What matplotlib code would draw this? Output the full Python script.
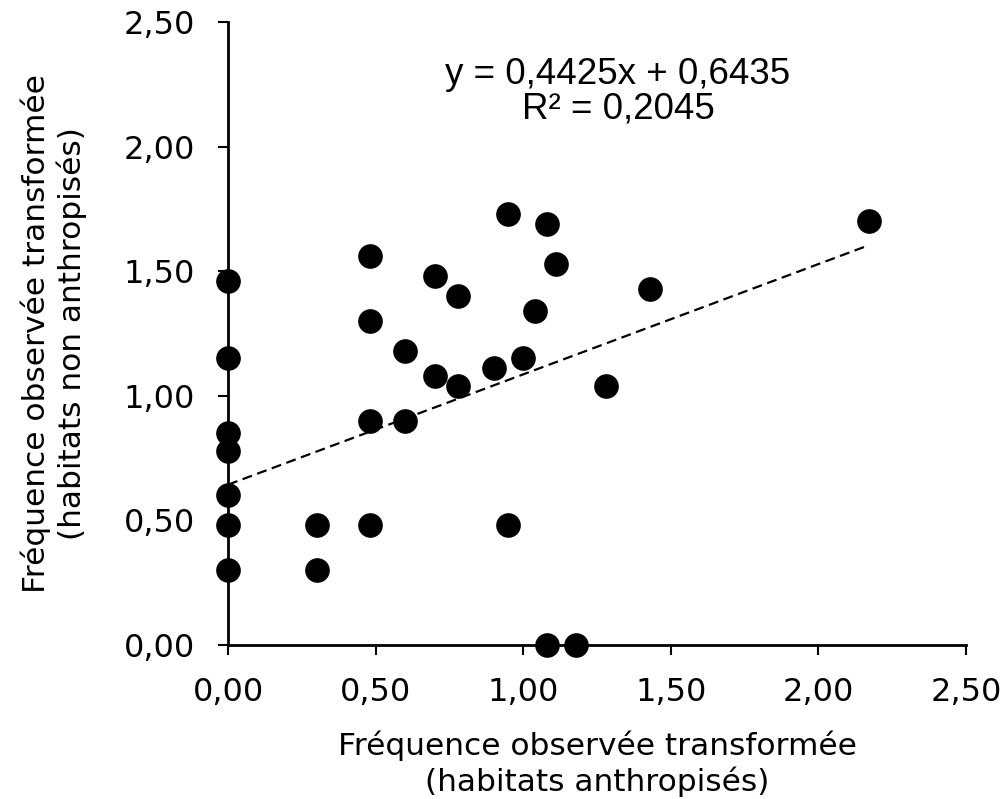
import numpy as np
import matplotlib
matplotlib.use("Agg")
import matplotlib.pyplot as plt
from matplotlib.ticker import FuncFormatter

# Observed transformed frequencies
x_anthro = [0, 0, 0, 0, 0, 0, 0,
            0.30, 0.30,
            0.48, 0.48, 0.48, 0.48,
            0.60, 0.60,
            0.70, 0.70,
            0.78, 0.78,
            0.90, 0.95, 0.95, 1.00, 1.04,
            1.08, 1.08, 1.11, 1.18, 1.28, 1.43, 2.17]
y_non_anthro = [1.46, 1.15, 0.85, 0.78, 0.60, 0.48, 0.30,
                0.48, 0.30,
                1.56, 1.30, 0.90, 0.48,
                1.18, 0.90,
                1.48, 1.08,
                1.40, 1.04,
                1.11, 1.73, 0.48, 1.15, 1.34,
                1.69, 0.00, 1.53, 0.00, 1.04, 1.43, 1.70]

slope, intercept, r2 = 0.4425, 0.6435, 0.2045

fig = plt.figure(figsize=(10.08, 7.99), dpi=100)
ax = fig.add_axes([0.2262, 0.1927, 0.7321, 0.7798])

ax.scatter(x_anthro, y_non_anthro, s=280, color="black", zorder=3, clip_on=False)

xs = np.array([0, max(x_anthro)])
ax.plot(xs, slope * xs + intercept, color="black", ls=(0, (4.5, 2.5)), lw=1.6, zorder=2)

ax.set_xlim(0, 2.5)
ax.set_ylim(0, 2.5)
ticks = np.arange(0, 2.51, 0.5)
ax.set_xticks(ticks)
ax.set_yticks(ticks)
fmt = FuncFormatter(lambda v, p: f"{v:.2f}".replace(".", ","))
ax.xaxis.set_major_formatter(fmt)
ax.yaxis.set_major_formatter(fmt)

for s in ["top", "right"]:
    ax.spines[s].set_visible(False)
for s in ["left", "bottom"]:
    ax.spines[s].set_linewidth(2)
ax.tick_params(direction="out", length=7, width=1.5, labelsize=23)
ax.tick_params(axis="x", pad=16)
ax.tick_params(axis="y", pad=17)

ax.set_xlabel("Fréquence observée transformée\n(habitats anthropisés)",
              fontsize=22.5, family="DejaVu Sans", labelpad=16, linespacing=1.25)
ax.set_ylabel("Fréquence observée transformée\n(habitats non anthropisés)",
              fontsize=22.5, family="DejaVu Sans", labelpad=26, linespacing=1.25)

ax.text(0.5285, 0.888, f"y = {slope:.4f}x + {intercept:.4f}".replace(".", ",")
        + "\n" + f"R² = {r2:.4f}".replace(".", ","),
        transform=ax.transAxes, ha="center", va="center", fontsize=26.5,
        family="Liberation Sans", linespacing=0.95)

plt.savefig("out.png", dpi=100)
plt.close()
